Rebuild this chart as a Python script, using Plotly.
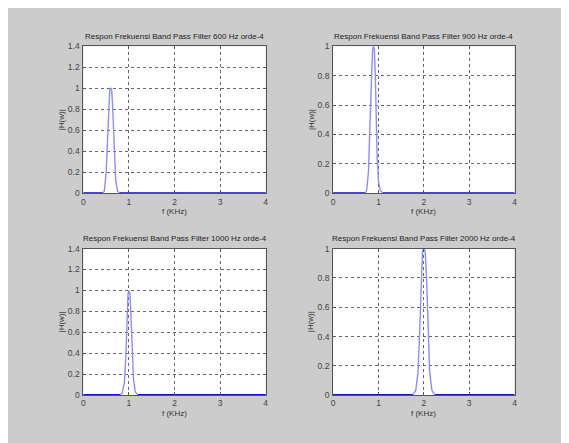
import numpy as np
import plotly.graph_objects as go

# ---- data ----
titles = [
    "Respon Frekuensi Band Pass Filter 600 Hz orde-4",
    "Respon Frekuensi Band Pass Filter 900 Hz orde-4",
    "Respon Frekuensi Band Pass Filter 1000 Hz orde-4",
    "Respon Frekuensi Band Pass Filter 2000 Hz orde-4",
]
f600 = [0, 0.42, 0.46, 0.50, 0.53, 0.56, 0.58, 0.60, 0.62, 0.64, 0.66, 0.68, 0.71, 0.75, 0.80, 4]
h600 = [0, 0, 0.02, 0.20, 0.50, 0.85, 0.99, 1.00, 0.99, 0.85, 0.60, 0.40, 0.12, 0.02, 0, 0]
f900 = [0, 0.70, 0.74, 0.78, 0.81, 0.84, 0.87, 0.89, 0.91, 0.93, 0.95, 0.97, 1.00, 1.04, 1.10, 4]
h900 = [0, 0, 0.02, 0.15, 0.45, 0.80, 0.98, 1.00, 0.97, 0.80, 0.50, 0.25, 0.08, 0.02, 0, 0]
f1000 = [0, 0.80, 0.85, 0.90, 0.93, 0.96, 0.98, 1.00, 1.02, 1.04, 1.07, 1.10, 1.14, 1.20, 4]
h1000 = [0, 0, 0.02, 0.12, 0.35, 0.75, 0.97, 1.00, 0.97, 0.80, 0.45, 0.15, 0.03, 0, 0]
f2000 = [0, 1.75, 1.82, 1.87, 1.91, 1.94, 1.97, 2.00, 2.03, 2.06, 2.09, 2.13, 2.18, 2.25, 4]
h2000 = [0, 0, 0.03, 0.15, 0.45, 0.80, 0.98, 1.00, 0.98, 0.80, 0.45, 0.15, 0.03, 0, 0]
y_max = [1.4, 1.0, 1.4, 1.0]
x_ticks = [0, 1, 2, 3, 4]
x_label = "f (KHz)"
y_label = "|H(w)|"

series = [(f600, h600), (f900, h900), (f1000, h1000), (f2000, h2000)]

W, H = 569, 443
OFF = 9  # page offset of the figure inside the window
# plot-area pixel boxes in window coords (left, right, top, bottom)
boxes = [(83, 267, 43, 193.5), (335, 518, 43, 193.5),
         (83, 267, 250, 400), (335, 518, 250, 400)]

fig = go.Figure()
layout = dict(
    width=W, height=H, margin=dict(l=0, r=0, t=0, b=0),
    paper_bgcolor="#cccccc", plot_bgcolor="white", showlegend=False,
    font=dict(family="Liberation Sans, Arial, sans-serif", size=8, color="#333"),
    annotations=[],
)

for i, ((fx, hy), box) in enumerate(zip(series, boxes)):
    l, r, t, b = [v - OFF for v in box]
    n = "" if i == 0 else str(i + 1)
    xa, ya = "x" + n, "y" + n
    fx = np.array(fx, dtype=float)
    hy = np.array(hy, dtype=float)
    fig.add_trace(go.Scatter(x=fx, y=hy, mode="lines", xaxis=xa, yaxis=ya,
                             line=dict(color="#8c8cff", width=1.4), hoverinfo="skip"))
    base = np.where(hy < 0.01, hy, np.nan)
    fig.add_trace(go.Scatter(x=fx, y=base, mode="lines", xaxis=xa, yaxis=ya, connectgaps=False,
                             line=dict(color="#1010c8", width=2.2), hoverinfo="skip"))
    axcommon = dict(showline=True, linecolor="#555", linewidth=1, mirror="ticks",
                    ticks="inside", ticklen=3, tickcolor="#555",
                    showgrid=True, gridcolor="#666", griddash="dot", gridwidth=1,
                    zeroline=False, tickfont=dict(size=8.5, color="#444"))
    ystep = 0.2
    yt = list(np.round(np.arange(0, y_max[i] + 1e-9, ystep), 1))
    layout["xaxis" + n] = dict(axcommon, domain=[l / W, r / W], range=[0, 4],
                               tickvals=x_ticks, anchor=ya, ticklabelstandoff=0)
    layout["yaxis" + n] = dict(axcommon, domain=[1 - b / H, 1 - t / H], range=[0, y_max[i]],
                               tickvals=yt, ticktext=[("%g" % v) for v in yt], anchor=xa,
                               ticklabelstandoff=1)
    cx = (l + r) / 2
    layout["annotations"] += [
        dict(text=titles[i], x=cx / W, y=1 - (t - 10) / H, xref="paper", yref="paper",
             showarrow=False, font=dict(size=8, color="#222"), xanchor="center", yanchor="middle"),
        dict(text=x_label, x=cx / W, y=1 - (b + 19) / H, xref="paper", yref="paper",
             showarrow=False, font=dict(size=8, color="#333"), xanchor="center", yanchor="middle"),
        dict(text=y_label, x=(l - 22) / W, y=1 - (t + b) / 2 / H, xref="paper", yref="paper",
             showarrow=False, textangle=-90, font=dict(size=8, color="#333"),
             xanchor="center", yanchor="middle"),
    ]

fig.update_layout(**layout)
fig.write_html("out.html")
